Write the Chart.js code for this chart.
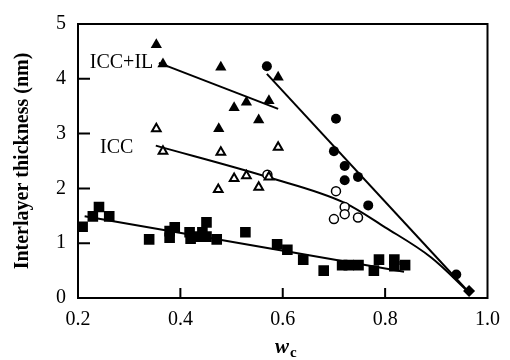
<!DOCTYPE html>
<html>
<head>
<meta charset="utf-8">
<script src="https://cdn.jsdelivr.net/npm/chart.js@4.4.0/dist/chart.umd.min.js"></script>
<style>
html, body { margin:0; padding:0; background:#fff; }
#wrap { width:510px; height:360px; }
</style>
</head>
<body>
<div id="wrap"><canvas id="chart"></canvas></div>
<script>
// w_c on x, interlayer thickness (nm) on y

// filled squares
let sqX = [0.209, 0.229, 0.241, 0.261, 0.339, 0.379, 0.379, 0.389, 0.418, 0.420, 0.433, 0.443, 0.451, 0.451, 0.471, 0.527,
           0.589, 0.609, 0.640, 0.680, 0.716, 0.729, 0.748, 0.778, 0.788, 0.818, 0.818, 0.839]
let sqY = [1.30, 1.49, 1.66, 1.49, 1.07, 1.10, 1.22, 1.29, 1.20, 1.08, 1.12, 1.20, 1.38, 1.12, 1.07, 1.20,
           0.98, 0.88, 0.70, 0.50, 0.60, 0.60, 0.60, 0.50, 0.70, 0.70, 0.58, 0.60]

// filled triangles (ICC+IL)
let triX = [0.353, 0.366, 0.479, 0.475, 0.505, 0.529, 0.553, 0.573, 0.591]
let triY = [4.62, 4.27, 4.21, 3.09, 3.47, 3.57, 3.25, 3.60, 4.03]

// open triangles (ICC)
let otriX = [0.353, 0.366, 0.479, 0.474, 0.505, 0.529, 0.553, 0.573, 0.591]
let otriY = [3.09, 2.68, 2.66, 1.98, 2.18, 2.23, 2.02, 2.21, 2.75]

// filled circles
let circX = [0.569, 0.704, 0.700, 0.721, 0.721, 0.747, 0.767, 0.939]
let circY = [4.23, 3.27, 2.68, 2.41, 2.15, 2.21, 1.69, 0.43]

// open circles
let ocircX = [0.570, 0.704, 0.721, 0.721, 0.700, 0.747]
let ocircY = [2.25, 1.95, 1.66, 1.53, 1.44, 1.47]

// filled diamond
let diaX = [0.964]
let diaY = [0.13]

// fitted lines
let fitIlX = [0.358, 0.591]
let fitIlY = [4.29, 3.45]
let fitSteepX = [0.569, 0.964]
let fitSteepY = [4.09, 0.10]
let fitIccX = [0.352, 0.573, 0.720, 0.800, 0.890, 0.964]
let fitIccY = [2.78, 2.20, 1.74, 1.29, 0.74, 0.10]
let fitSqX = [0.213, 0.837]
let fitSqY = [1.49, 0.48]

let xTicks = [0.2, 0.4, 0.6, 0.8, 1.0]
let yTicks = [0, 1, 2, 3, 4, 5]

function pts(xs, ys){
    let out = []
    for (var i = 0; i < xs.length; i++){
        out.push({x: xs[i], y: ys[i]})
    }
    return out
}

function marker(data, style, radius, fill, bw){
    return {
        data: data, showLine: false, order: 0,
        pointStyle: style, pointRadius: radius, pointHoverRadius: radius,
        backgroundColor: fill, borderColor: '#000', borderWidth: bw,
    }
}

function fitLine(data, tension){
    return {
        data: data, showLine: true, order: 1,
        pointRadius: 0, borderColor: '#000', borderWidth: 2,
        tension: tension, cubicInterpolationMode: tension ? 'monotone' : 'default',
    }
}

let serif = 'Liberation Serif'

let framePlugin = {
    id: 'frame',
    afterDatasetsDraw(chart){
        let ctx = chart.ctx
        let a = chart.chartArea
        let xs = chart.scales.x
        let ys = chart.scales.y
        ctx.save()
        ctx.strokeStyle = '#000'
        ctx.lineWidth = 2
        ctx.strokeRect(a.left, a.top, a.right - a.left, a.bottom - a.top)
        ctx.beginPath()
        xTicks.forEach(v => {
            if (v <= xs.min || v >= xs.max) return
            let px = xs.getPixelForValue(v)
            ctx.moveTo(px, a.bottom)
            ctx.lineTo(px, a.bottom - 10)
        })
        yTicks.forEach(v => {
            if (v <= ys.min || v >= ys.max) return
            let py = ys.getPixelForValue(v)
            ctx.moveTo(a.left, py)
            ctx.lineTo(a.left + 12, py)
        })
        ctx.stroke()

        // series labels
        ctx.fillStyle = '#000'
        ctx.textBaseline = 'middle'
        ctx.textAlign = 'left'
        ctx.font = '20px "' + serif + '"'
        ctx.fillText('ICC+IL', xs.getPixelForValue(0.223), ys.getPixelForValue(4.29))
        ctx.fillText('ICC', xs.getPixelForValue(0.243), ys.getPixelForValue(2.75))

        // x axis title w_c
        ctx.textBaseline = 'alphabetic'
        ctx.font = 'bold italic 21px "' + serif + '"'
        let wx = 275
        ctx.fillText('w', wx, 353)
        let ww = ctx.measureText('w').width
        ctx.font = 'bold 15px "' + serif + '"'
        ctx.fillText('c', wx + ww + 1, 357)
        ctx.restore()
    }
}

let ctx = document.getElementById('chart').getContext('2d')

let thicknessChart = new Chart(ctx, {
    type: 'scatter',
    data: {
        datasets: [
            marker(pts(sqX, sqY), 'rect', 7.5, '#000', 0),
            marker(pts(triX, triY), 'triangle', 6.5, '#000', 0),
            marker(pts(otriX, otriY), 'triangle', 5, '#fff', 2),
            marker(pts(circX, circY), 'circle', 5, '#000', 0),
            marker(pts(ocircX, ocircY), 'circle', 4.5, '#fff', 1.5),
            marker(pts(diaX, diaY), 'rectRot', 6, '#000', 0),
            fitLine(pts(fitIlX, fitIlY), 0),
            fitLine(pts(fitSteepX, fitSteepY), 0),
            fitLine(pts(fitIccX, fitIccY), 0.4),
            fitLine(pts(fitSqX, fitSqY), 0),
        ]
    },
    options: {
        responsive: true,
        maintainAspectRatio: false,
        animation: false,
        layout: { padding: { top: 22, right: 13, left: 0, bottom: 0 } },
        plugins: { legend: { display: false }, tooltip: { enabled: false } },
        scales: {
            x: {
                type: 'linear', min: 0.2, max: 1.0,
                afterFit(scale){ scale.height = 62 },
                afterBuildTicks(scale){ scale.ticks = xTicks.map(v => ({value: v})) },
                grid: { display: false, drawTicks: false },
                border: { display: false },
                ticks: {
                    color: '#000', padding: 10,
                    font: { family: serif, size: 20 },
                    callback: v => v.toFixed(1),
                },
            },
            y: {
                type: 'linear', min: 0, max: 5,
                afterFit(scale){ scale.width = 78 },
                afterBuildTicks(scale){ scale.ticks = yTicks.map(v => ({value: v})) },
                grid: { display: false, drawTicks: false },
                border: { display: false },
                ticks: {
                    color: '#000', padding: 12,
                    font: { family: serif, size: 20 },
                },
                title: {
                    display: true, text: 'Interlayer thickness (nm)', color: '#000',
                    font: { family: serif, size: 20, weight: 'bold' },
                    padding: { top: 11, bottom: 0 },
                },
            },
        },
    },
    plugins: [framePlugin],
});
</script>
</body>
</html>
